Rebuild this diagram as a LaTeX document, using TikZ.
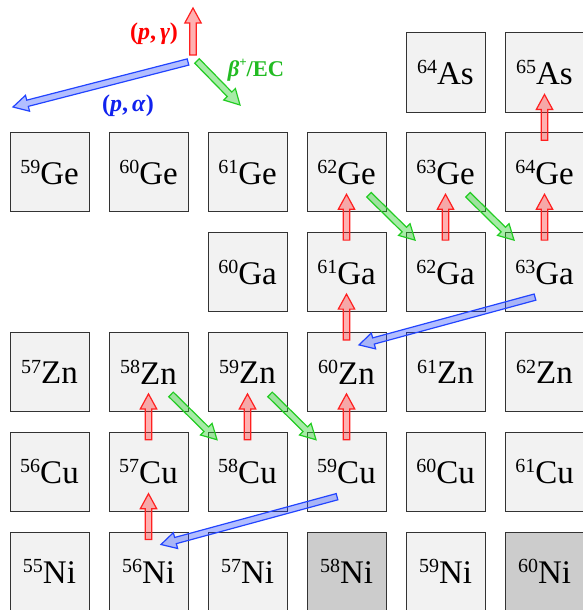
\documentclass[tikz,border=0pt]{standalone}
\usepackage{fontspec}
\setmainfont{Liberation Serif}
\usetikzlibrary{calc}
\definecolor{boxfill}{HTML}{F2F2F2}
\definecolor{stablefill}{HTML}{CCCCCC}
\definecolor{boxline}{HTML}{333333}
\definecolor{pgred}{HTML}{FF2020}
\definecolor{pggreen}{HTML}{22CC22}
\definecolor{pgblue}{HTML}{2244FF}
\definecolor{lblred}{HTML}{FF0000}
\definecolor{lblgreen}{HTML}{22BB22}
\definecolor{lblblue}{HTML}{1122EE}
\newcommand\iso[2]{\raisebox{0.33em}{\fontsize{20}{20}\selectfont #1}#2}
\newcommand\fatarr[3]{%
  \coordinate (fa-s) at #2;
  \coordinate (fa-e) at #3;
  \coordinate (fa-h) at ($(fa-e)!15pt!(fa-s)$);
  \draw[#1] ($(fa-s)!3.2pt!90:(fa-e)$) -- ($(fa-h)!3.2pt!90:(fa-e)$) -- ($(fa-h)!8.2pt!90:(fa-e)$) -- (fa-e) -- ($(fa-h)!8.2pt!-90:(fa-e)$) -- ($(fa-h)!3.2pt!-90:(fa-e)$) -- ($(fa-s)!3.2pt!-90:(fa-e)$) -- cycle;}
\tikzset{
  nuc/.style={draw=boxline, fill=boxfill, line width=1pt, minimum width=79pt, minimum height=79pt, inner sep=0pt, font=\fontsize{33}{33}\selectfont},
  stable/.style={nuc, fill=stablefill},
  lbl/.style={inner sep=0pt, font=\fontsize{24}{24}\selectfont\bfseries},
  redarr/.style={draw=pgred, fill=pgred, fill opacity=0.35, line width=1.2pt, line join=miter},
  greenarr/.style={draw=pggreen, fill=pggreen, fill opacity=0.4, line width=1.2pt, line join=miter},
  bluearr/.style={draw=pgblue, fill=pgblue, fill opacity=0.35, line width=1.2pt, line join=miter}
}
\begin{document}
\begin{tikzpicture}[x=1pt, y=-1pt]
\useasboundingbox (0,0) rectangle (582,610);
% As row
\node[nuc] (As64) at (445.5,72.5) {\iso{64}{As}};
\node[nuc] (As65) at (544.5,72.5) {\iso{65}{As}};
% Ge row
\node[nuc] (Ge59) at (49.5,172.3) {\iso{59}{Ge}};
\node[nuc] (Ge60) at (148.5,172.3) {\iso{60}{Ge}};
\node[nuc] (Ge61) at (247.5,172.3) {\iso{61}{Ge}};
\node[nuc] (Ge62) at (346.5,172.3) {\iso{62}{Ge}};
\node[nuc] (Ge63) at (445.5,172.3) {\iso{63}{Ge}};
\node[nuc] (Ge64) at (544.5,172.3) {\iso{64}{Ge}};
% Ga row
\node[nuc] (Ga60) at (247.5,272.1) {\iso{60}{Ga}};
\node[nuc] (Ga61) at (346.5,272.1) {\iso{61}{Ga}};
\node[nuc] (Ga62) at (445.5,272.1) {\iso{62}{Ga}};
\node[nuc] (Ga63) at (544.5,272.1) {\iso{63}{Ga}};
% Zn row
\node[nuc] (Zn57) at (49.5,371.9) {\iso{57}{Zn}};
\node[nuc] (Zn58) at (148.5,371.9) {\iso{58}{Zn}};
\node[nuc] (Zn59) at (247.5,371.9) {\iso{59}{Zn}};
\node[nuc] (Zn60) at (346.5,371.9) {\iso{60}{Zn}};
\node[nuc] (Zn61) at (445.5,371.9) {\iso{61}{Zn}};
\node[nuc] (Zn62) at (544.5,371.9) {\iso{62}{Zn}};
% Cu row
\node[nuc] (Cu56) at (49.5,471.7) {\iso{56}{Cu}};
\node[nuc] (Cu57) at (148.5,471.7) {\iso{57}{Cu}};
\node[nuc] (Cu58) at (247.5,471.7) {\iso{58}{Cu}};
\node[nuc] (Cu59) at (346.5,471.7) {\iso{59}{Cu}};
\node[nuc] (Cu60) at (445.5,471.7) {\iso{60}{Cu}};
\node[nuc] (Cu61) at (544.5,471.7) {\iso{61}{Cu}};
% Ni row
\node[nuc] (Ni55) at (49.5,571.5) {\iso{55}{Ni}};
\node[nuc] (Ni56) at (148.5,571.5) {\iso{56}{Ni}};
\node[nuc] (Ni57) at (247.5,571.5) {\iso{57}{Ni}};
\node[stable] (Ni58) at (346.5,571.5) {\iso{58}{Ni}};
\node[nuc] (Ni59) at (445.5,571.5) {\iso{59}{Ni}};
\node[stable] (Ni60) at (544.5,571.5) {\iso{60}{Ni}};
% (p,gamma) arrows
\fatarr{redarr}{($(Ga61.north)+(0,8)$)}{($(Ge62.south)+(0,-18)$)}
\fatarr{redarr}{($(Ga62.north)+(0,8)$)}{($(Ge63.south)+(0,-18)$)}
\fatarr{redarr}{($(Ga63.north)+(0,8)$)}{($(Ge64.south)+(0,-18)$)}
\fatarr{redarr}{($(Ge64.north)+(0,8)$)}{($(As65.south)+(0,-18)$)}
\fatarr{redarr}{($(Zn60.north)+(0,8)$)}{($(Ga61.south)+(0,-18)$)}
\fatarr{redarr}{($(Cu57.north)+(0,8)$)}{($(Zn58.south)+(0,-18)$)}
\fatarr{redarr}{($(Cu58.north)+(0,8)$)}{($(Zn59.south)+(0,-18)$)}
\fatarr{redarr}{($(Cu59.north)+(0,8)$)}{($(Zn60.south)+(0,-18)$)}
\fatarr{redarr}{($(Ni56.north)+(0,8)$)}{($(Cu57.south)+(0,-18)$)}
% beta+/EC arrows
\fatarr{greenarr}{($(Ge62.center)+(22.5,22.5)$)}{($(Ga62.center)+(-30.5,-32)$)}
\fatarr{greenarr}{($(Ge63.center)+(22.5,22.5)$)}{($(Ga63.center)+(-30.5,-32)$)}
\fatarr{greenarr}{($(Zn58.center)+(22.5,22.5)$)}{($(Cu58.center)+(-30.5,-32)$)}
\fatarr{greenarr}{($(Zn59.center)+(22.5,22.5)$)}{($(Cu59.center)+(-30.5,-32)$)}
% (p,alpha) arrows
\fatarr{bluearr}{($(Ga63.center)+(-9.5,25)$)}{($(Zn60.center)+(12.5,-27)$)}
\fatarr{bluearr}{($(Cu59.center)+(-9.5,25)$)}{($(Ni56.center)+(12.5,-27)$)}
% legend
\coordinate (lgR0) at (193,55);
\coordinate (lgR1) at (193,8);
\coordinate (lgG0) at (197,61);
\coordinate (lgG1) at (240,105);
\coordinate (lgB0) at (188,62);
\coordinate (lgB1) at (13,107);
\fatarr{redarr}{(lgR0)}{(lgR1)}
\fatarr{greenarr}{(lgG0)}{(lgG1)}
\fatarr{bluearr}{(lgB0)}{(lgB1)}
\node[lbl, text=lblred] (lpg) at (154,34) {(\textit{p},\,\textit{γ})};
\node[lbl, text=lblgreen, font=\fontsize{22.5}{22.5}\selectfont\bfseries] (lbe) at (256,70) {\textit{β}\raisebox{0.42em}{\fontsize{13}{13}\selectfont +}/EC};
\node[lbl, text=lblblue] (lpa) at (128,106) {(\textit{p},\,\textit{α})};
\end{tikzpicture}
\end{document}
